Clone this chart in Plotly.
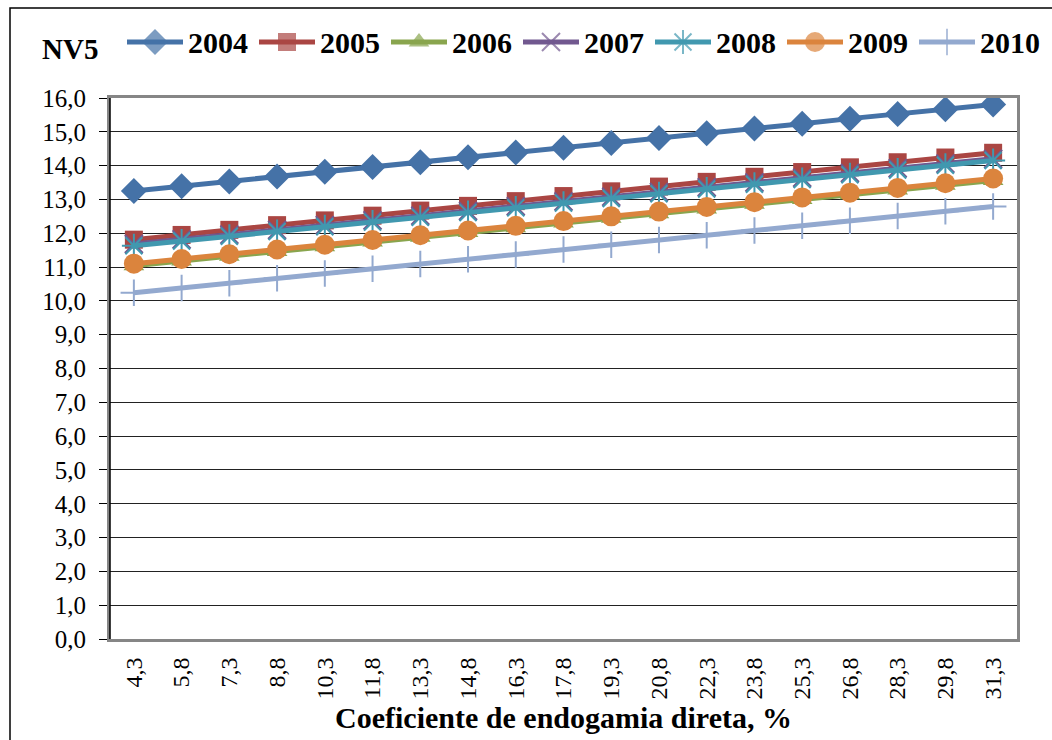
import plotly.graph_objects as go

# Inbreeding coefficient categories (x axis) and NV5 values per year
coef = ["4,3", "5,8", "7,3", "8,8", "10,3", "11,8", "13,3", "14,8", "16,3", "17,8",
        "19,3", "20,8", "22,3", "23,8", "25,3", "26,8", "28,3", "29,8", "31,3"]

nv5_2004 = [13.25, 13.39, 13.53, 13.68, 13.82, 13.96, 14.10, 14.25, 14.39, 14.53,
            14.67, 14.82, 14.96, 15.10, 15.24, 15.39, 15.53, 15.67, 15.81]
nv5_2005 = [11.81, 11.95, 12.10, 12.24, 12.38, 12.52, 12.67, 12.81, 12.95, 13.10,
            13.24, 13.38, 13.52, 13.67, 13.81, 13.95, 14.10, 14.24, 14.38]
nv5_2006 = [11.04, 11.18, 11.32, 11.46, 11.60, 11.74, 11.88, 12.02, 12.16, 12.30,
            12.44, 12.58, 12.72, 12.86, 13.00, 13.14, 13.28, 13.42, 13.56]
nv5_2007 = [11.68, 11.82, 11.96, 12.10, 12.24, 12.38, 12.52, 12.66, 12.80, 12.94,
            13.08, 13.22, 13.36, 13.50, 13.64, 13.78, 13.92, 14.06, 14.20]
nv5_2008 = [11.63, 11.77, 11.91, 12.05, 12.19, 12.33, 12.47, 12.61, 12.75, 12.89,
            13.03, 13.17, 13.31, 13.45, 13.59, 13.73, 13.87, 14.01, 14.15]
nv5_2009 = [11.10, 11.24, 11.38, 11.52, 11.66, 11.80, 11.94, 12.08, 12.22, 12.36,
            12.50, 12.64, 12.78, 12.92, 13.06, 13.20, 13.34, 13.48, 13.62]
nv5_2010 = [10.24, 10.38, 10.52, 10.67, 10.81, 10.95, 11.09, 11.23, 11.37, 11.52,
            11.66, 11.80, 11.94, 12.08, 12.22, 12.37, 12.51, 12.65, 12.79]

years = ["2004", "2005", "2006", "2007", "2008", "2009", "2010"]
series = [nv5_2004, nv5_2005, nv5_2006, nv5_2007, nv5_2008, nv5_2009, nv5_2010]

colors = ["#4572A7", "#AA4643", "#89A54E", "#71588F", "#4198AF", "#DB843D", "#93A9CF"]
symbols = ["diamond", "square", "triangle-up", "x-thin", "asterisk-open", "circle", "cross-thin"]
sizes = [20, 18, 18, 18, 20, 20, 19]

SERIF = "Liberation Serif"
W, H, B = 1052, 740, 101


def marker_style(sym, sz, col):
    thin = sym.endswith("thin") or sym.startswith("asterisk")
    return dict(symbol=sym, size=sz, color=col,
                line=dict(color=col, width=2 if thin else 0))


fig = go.Figure()
for name, vals, col, sym, sz in zip(years, series, colors, symbols, sizes):
    fig.add_trace(go.Scatter(
        x=coef, y=vals, name=name, mode="lines+markers",
        line=dict(color=col, width=5),
        marker=marker_style(sym, sz, col),
        xaxis="x", yaxis="y", showlegend=False,
    ))

# Legend row drawn on its own pixel-scaled overlay axes across the top strip
LEG_Y = 42
LEG_X0, LEG_PITCH, LEG_LINE = 127, 132, 56
for i, (name, col, sym, sz) in enumerate(zip(years, colors, symbols, sizes)):
    x0 = LEG_X0 + i * LEG_PITCH
    fig.add_trace(go.Scatter(
        x=[x0, x0 + LEG_LINE / 2, x0 + LEG_LINE], y=[LEG_Y] * 3,
        mode="lines+markers", line=dict(color=col, width=5),
        marker=dict(marker_style(sym, sz, col), size=[0, sz, 0]),
        xaxis="x2", yaxis="y2", showlegend=False, hoverinfo="skip",
    ))
    fig.add_annotation(text=name, xref="x2", yref="y2",
                       x=x0 + LEG_LINE + 3, y=LEG_Y, xanchor="left", yanchor="middle",
                       showarrow=False,
                       font=dict(family=SERIF, size=30, color="black", weight="bold"))

fig.add_annotation(text="NV5", xref="x2", yref="y2",
                   x=70, y=49, xanchor="center", yanchor="middle",
                   showarrow=False,
                   font=dict(family=SERIF, size=29, color="black", weight="bold"))

plot_h = H - B
fig.update_layout(
    width=W, height=H,
    margin=dict(l=0, r=0, t=0, b=B),
    paper_bgcolor="white", plot_bgcolor="white",
    separators=",.",
    font=dict(family=SERIF, color="black"),
    showlegend=False,
    xaxis=dict(
        domain=[110 / W, 1017 / W], anchor="y",
        type="category", range=[-0.5, len(coef) - 0.5],
        showgrid=False, ticks="", tickangle=-90,
        tickfont=dict(family=SERIF, size=24, color="black"),
        ticklabelstandoff=6,
        showline=True, linecolor="#868686", linewidth=3, mirror=True,
        automargin=False,
        title=dict(text="Coeficiente de endogamia direta, %",
                   font=dict(family=SERIF, size=30, color="black", weight="bold"),
                   standoff=9),
    ),
    yaxis=dict(
        domain=[0, 541 / plot_h], anchor="x",
        range=[0, 16], dtick=1, tickformat=".1f",
        showgrid=True, gridcolor="#222222", gridwidth=1,
        ticks="outside", ticklen=8, tickcolor="black",
        tickfont=dict(family=SERIF, size=25, color="black"),
        ticklabelstandoff=8,
        showline=True, linecolor="#868686", linewidth=3, mirror=True,
        zeroline=False, automargin=False,
    ),
    xaxis2=dict(domain=[0, 1], anchor="y2", range=[0, W], visible=False, fixedrange=True),
    yaxis2=dict(domain=[1 - 84 / plot_h, 1], anchor="x2", range=[84, 0],
                visible=False, fixedrange=True),
)

# black y-axis line on the left edge of the plotting area
fig.add_shape(type="line", xref="x domain", yref="y domain", x0=0, x1=0, y0=0, y1=1,
              line=dict(color="black", width=1.5))

# outer chart frame (runs off the right and bottom edges)
fig.add_shape(type="rect", xref="paper", yref="paper",
              x0=10 / W, x1=1.02, y0=-0.3, y1=1 - 8 / plot_h,
              line=dict(color="black", width=1.5), layer="below")

fig.write_html("out.html")
